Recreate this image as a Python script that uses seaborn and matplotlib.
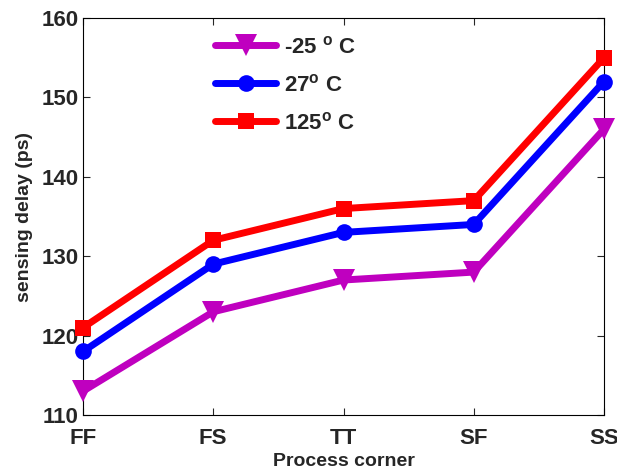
import matplotlib
matplotlib.use("Agg")
import matplotlib.pyplot as plt
import seaborn as sns
import pandas as pd

corners = ["FF", "FS", "TT", "SF", "SS"]
delay_m25 = [113, 123, 127, 128, 146]
delay_27 = [118, 129, 133, 134, 152]
delay_125 = [121, 132, 136, 137, 155]
labels = ["-25 $^{\\mathbf{o}}$ C", "27$^{\\mathbf{o}}$ C", "125$^{\\mathbf{o}}$ C"]
colors = ["#BF00BF", "#0000FF", "#FF0000"]
markers = ["v", "o", "s"]
msizes = [16, 12, 11]

sns.set_theme(style="ticks")
plt.rcParams["font.family"] = ["Liberation Sans", "DejaVu Sans"]
plt.rcParams["font.weight"] = "bold"
plt.rcParams["mathtext.default"] = "bf"
plt.rcParams["mathtext.fontset"] = "custom"
plt.rcParams["mathtext.bf"] = "Liberation Sans:bold"

fig = plt.figure(figsize=(6.17, 4.74), dpi=100)
ax = fig.add_axes([83 / 617, 1 - 415 / 474, (604 - 83) / 617, (415 - 18) / 474])

xs = list(range(len(corners)))
for vals, lab, c, m, ms in zip([delay_m25, delay_27, delay_125], labels, colors, markers, msizes):
    df = pd.DataFrame({"x": xs, "y": vals})
    sns.lineplot(data=df, x="x", y="y", ax=ax, color=c, marker=m, markersize=ms,
                 linewidth=5, markeredgewidth=0, label=lab, clip_on=False, zorder=3)

ax.set_xlim(0, 4)
ax.set_ylim(110, 160)
ax.set_xticks(xs)
ax.set_xticklabels(corners)
ax.set_yticks([110, 120, 130, 140, 150, 160])
ax.tick_params(direction="in", length=5, width=0.8, labelsize=16, top=True, right=True)
ax.tick_params(axis="x", pad=9)
ax.tick_params(axis="y", pad=3)
for lbl in ax.get_xticklabels() + ax.get_yticklabels():
    lbl.set_fontweight("bold")
for s in ax.spines.values():
    s.set_linewidth(0.8)
    s.set_color("black")
ax.set_xlabel("Process corner", fontsize=14, fontweight="bold", labelpad=3)
ax.set_ylabel("sensing delay (ps)", fontsize=14, fontweight="bold", labelpad=6)

leg = ax.legend(loc="upper left", bbox_to_anchor=(0.215, 1.005), frameon=False,
                prop={"size": 16, "weight": "bold"}, handlelength=2.75,
                labelspacing=0.72, handletextpad=0.35)

fig.savefig("out.png", dpi=100)
